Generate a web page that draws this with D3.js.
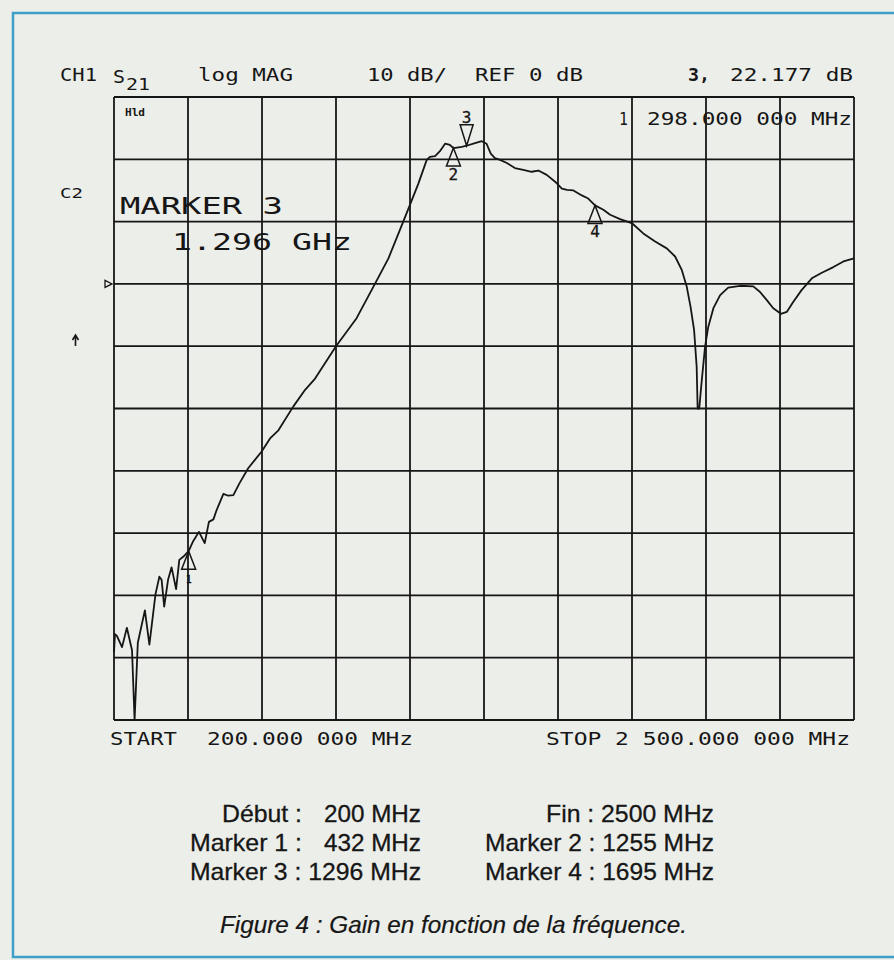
<!DOCTYPE html>
<html>
<head>
<meta charset="utf-8">
<script src="https://cdn.jsdelivr.net/npm/d3@7"></script>
<style>
  html, body { margin: 0; padding: 0; background: #eceeea; }
  svg { display: block; }
</style>
</head>
<body>
<svg id="chart" width="894" height="960"></svg>
<script>
// S21 transmission trace, 200 MHz to 2500 MHz, log magnitude (dB)
const freqMHz = [
  200, 203, 209, 225, 240, 256, 264, 274, 296, 310,
  329, 341, 348, 356, 368, 379, 393, 403, 415, 432,
  446, 464, 482, 495, 509, 519, 540, 555, 571, 589,
  617, 659, 685, 711, 757, 794, 825, 890, 954, 1011,
  1053, 1099, 1126, 1146, 1172, 1182, 1198, 1213, 1229, 1244,
  1255, 1281, 1296, 1322, 1343, 1358, 1371, 1384, 1400, 1421,
  1446, 1472, 1498, 1519, 1545, 1571, 1592, 1608, 1628, 1654,
  1674, 1695, 1721, 1742, 1773, 1811, 1845, 1882, 1918, 1944,
  1965, 1980, 1992, 2003, 2011, 2014, 2019, 2027, 2037, 2047,
  2063, 2084, 2109, 2146, 2187, 2208, 2229, 2249, 2273, 2291,
  2311, 2337, 2369, 2400, 2436, 2467, 2500
];
const gainDb = [
  -59.1, -56.2, -56.5, -58.3, -55.2, -58.8, -70, -57.6, -52.4, -57.9,
  -49.8, -47.0, -47.5, -51.8, -47.5, -45.5, -49.0, -44.3, -43.8, -42.9,
  -41.3, -39.8, -41.6, -38.2, -37.8, -36.3, -33.7, -34.0, -33.9, -32.1,
  -29.6, -26.9, -24.8, -23.5, -19.7, -17.0, -15.2, -10.0, -5.5, 0.0,
  4.1, 10.0, 13.5, 16.1, 19.9, 20.4, 20.5, 21.3, 22.5, 22.3,
  21.8, 22.0, 22.177, 22.6, 22.9, 22.5, 20.9, 20.2, 19.9, 19.4,
  18.6, 18.3, 18.0, 18.2, 17.5, 16.4, 15.3, 15.1, 15.0, 14.2,
  13.7, 12.6, 11.9, 11.1, 10.4, 9.7, 8.1, 6.8, 5.7, 4.4,
  2.2, -0.4, -3.7, -7.4, -13.3, -20.0, -20.0, -15.4, -10.1, -6.9,
  -3.9, -1.8, -0.6, -0.3, -0.4, -1.3, -2.6, -3.9, -4.8, -4.5,
  -2.9, -1.0, 0.9, 1.8, 2.7, 3.6, 4.1
];

// Markers (marker 3 is the active one)
const markerIds   = ["1", "2", "3", "4"];
const markerFreqs = [432, 1255, 1296, 1695];
const markerGains = [-42.9, 21.8, 22.177, 12.6];
const activeMarker = "3";

// Sweep and scale settings
const startMHz = 200, stopMHz = 2500;
const refDb = 0, dbPerDiv = 10, divisions = 10;
const topDb = 30, bottomDb = -70;

// Notes printed under the plot: [label, value, label width, value width]
const notesLeft = [
  ["Début :", "200 MHz"],
  ["Marker 1 :", "432 MHz"],
  ["Marker 3 :", "1296 MHz"]
];
const notesRight = [
  ["Fin :", "2500 MHz"],
  ["Marker 2 :", "1255 MHz"],
  ["Marker 4 :", "1695 MHz"]
];

const svg = d3.select("#chart");
const plotFont = "'DejaVu Sans Mono', monospace";
const noteFont = "'Liberation Sans', Arial, sans-serif";
const ink = "#161616";

const x = d3.scaleLinear().domain([startMHz, stopMHz]).range([114, 854]);
const y = d3.scaleLinear().domain([bottomDb, topDb]).range([720, 97]);

// page background and the blue frame
svg.append("rect").attr("width", 894).attr("height", 960).attr("fill", "#eceeea");
svg.append("path")
  .attr("d", "M894,13 L13,13 L13,957 L894,957")
  .attr("fill", "none").attr("stroke", "#3f9fc9").attr("stroke-width", 2.5);

// graticule: 10 x 10 divisions
const vLines = d3.range(divisions + 1).map(i => startMHz + i * (stopMHz - startMHz) / divisions);
const hLines = d3.range(bottomDb, topDb + 1, dbPerDiv);
const grid = svg.append("g").attr("stroke", ink).attr("stroke-width", 1.8);
grid.selectAll("line.v").data(vLines).join("line").attr("class", "v")
  .attr("x1", d => x(d)).attr("x2", d => x(d)).attr("y1", y(topDb)).attr("y2", y(bottomDb));
grid.selectAll("line.h").data(hLines).join("line").attr("class", "h")
  .attr("x1", x(startMHz)).attr("x2", x(stopMHz)).attr("y1", d => y(d)).attr("y2", d => y(d));

// trace
const trace = d3.zip(freqMHz, gainDb);
svg.append("path")
  .datum(trace)
  .attr("fill", "none").attr("stroke", ink).attr("stroke-width", 1.8)
  .attr("stroke-linejoin", "round")
  .attr("d", d3.line().x(d => x(d[0])).y(d => y(d[1])));

// helper for plotter-style text stretched over a fixed span
function ptext(str, x0, yb, size, len, opts = {}) {
  const t = svg.append("text").attr("x", x0).attr("y", yb)
    .attr("font-family", opts.family || plotFont).attr("font-size", size)
    .attr("fill", ink).text(str);
  if (len) t.attr("textLength", len).attr("lengthAdjust", opts.adjust || "spacingAndGlyphs");
  if (opts.weight) t.attr("font-weight", opts.weight);
  if (opts.style) t.attr("font-style", opts.style);
  if (opts.anchor) t.attr("text-anchor", opts.anchor);
  if (opts.stroke) t.attr("stroke", ink).attr("stroke-width", opts.stroke);
  return t;
}

// markers
const mk = svg.append("g").attr("fill", "none").attr("stroke", ink).attr("stroke-width", 1.5);
markerIds.forEach((id, i) => {
  const mx = x(markerFreqs[i]), my = y(markerGains[i]);
  if (id === activeMarker) {
    mk.append("path").attr("d", `M${mx},${my} L${mx - 6.5},${my - 21} L${mx + 6.5},${my - 21} Z`);
    ptext(id, mx, my - 23, 16, null, { anchor: "middle", stroke: 0.3 });
  } else {
    mk.append("path").attr("d", `M${mx},${my} L${mx - 7},${my + 18} L${mx + 7},${my + 18} Z`);
    ptext(id, mx, my + 32, id === "1" ? 10 : 16, null, { anchor: "middle", stroke: 0.3 });
  }
});

// header line
ptext("CH1", 60, 81, 17, 37);
ptext("S", 113, 83, 17, 12);
ptext("21", 126, 90, 15, 24);
ptext("log MAG", 198, 81, 17, 95);
ptext("10 dB/", 367, 81, 17, 80);
ptext("REF " + refDb + " dB", 475, 81, 17, 108);
ptext("3,", 688, 81, 17, 22, { weight: "bold" });
ptext(markerGains[2].toFixed(3) + " dB", 730, 81, 17, 123);

// active marker readouts
ptext("Hld", 125, 116, 10, 20, { weight: "bold" });
ptext("1", 619, 125, 17, 9);
ptext("298.000 000 MHz", 647, 125, 17, 205);
ptext("C2", 60, 198, 14, 23);
ptext("MARKER " + activeMarker, 120, 214, 23, 163);
ptext((markerFreqs[2] / 1000).toFixed(3) + " GHz", 172, 250, 23, 180);

// reference level pointer and scale arrow at the left
svg.append("path")
  .attr("d", `M105,${y(refDb) - 3.5} L112,${y(refDb)} L105,${y(refDb) + 3.5} Z`)
  .attr("fill", "none").attr("stroke", ink).attr("stroke-width", 1.3);
svg.append("path").attr("d", "M75.5,346 L75.5,336 M72.5,340 L75.5,335 L78.5,340")
  .attr("fill", "none").attr("stroke", ink).attr("stroke-width", 1.6);

// sweep limits
ptext("START", 110, 745, 17, 67);
ptext("200.000 000 MHz", 207, 745, 17, 206);
ptext("STOP 2 500.000 000 MHz", 546, 745, 17, 304);

// notes under the plot
const rowsY = [822, 851, 880];
const leftWidths = [[80, 97], [112, 97], [null, null]];
notesLeft.forEach((r, i) => {
  const w = leftWidths[i];
  if (w[0]) {
    ptext(r[0], 302, rowsY[i], 24, w[0], { family: noteFont, anchor: "end", stroke: 0.3 });
    ptext(r[1], 421, rowsY[i], 24, w[1], { family: noteFont, anchor: "end", stroke: 0.3 });
  } else {
    ptext(r[0] + " " + r[1], 421, rowsY[i], 24, 231, { family: noteFont, anchor: "end", stroke: 0.3 });
  }
});
notesRight.forEach((r, i) => {
  ptext(r[0] + " " + r[1], 714, rowsY[i], 24, i === 0 ? 168 : 229,
    { family: noteFont, anchor: "end", stroke: 0.3 });
});
ptext("Figure 4 : Gain en fonction de la fréquence.", 220, 933, 23, 467,
  { family: noteFont, style: "italic", stroke: 0.2 });
</script>
</body>
</html>
